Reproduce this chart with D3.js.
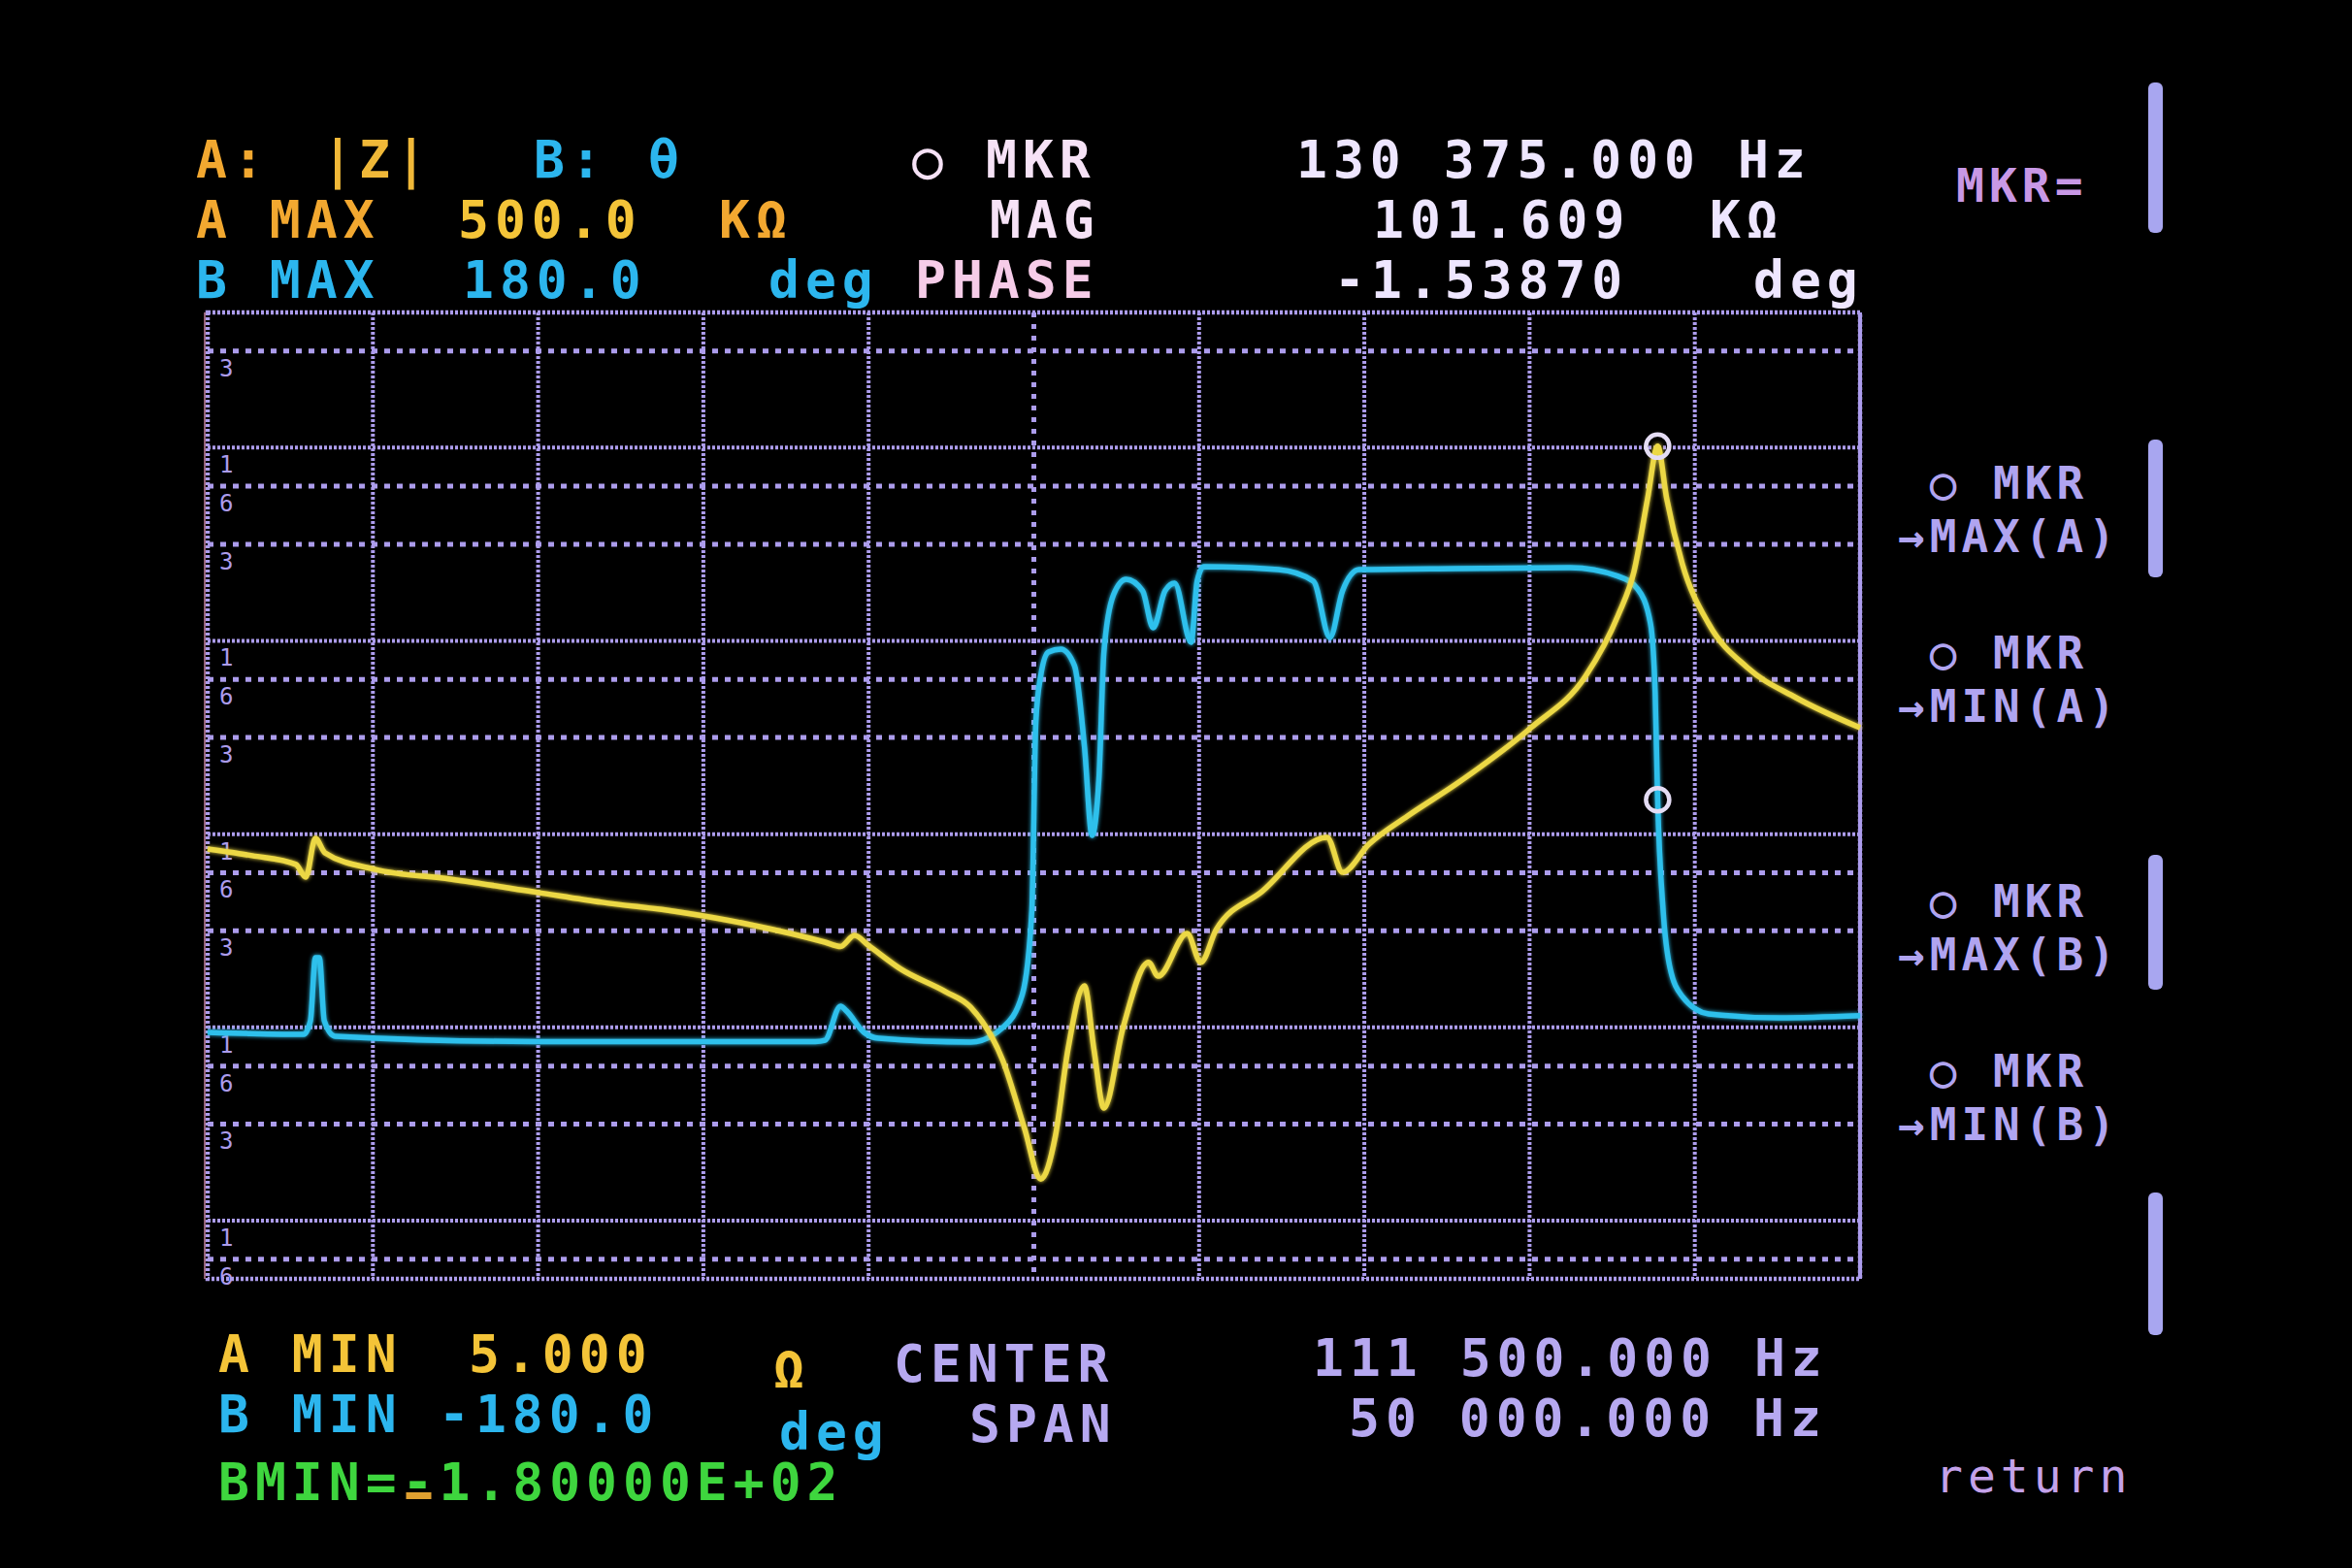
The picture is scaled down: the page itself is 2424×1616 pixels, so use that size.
<!DOCTYPE html>
<html><head><meta charset="utf-8">
<script src="https://cdn.jsdelivr.net/npm/d3@7"></script>
<style>html,body{margin:0;padding:0;background:#000;}svg{display:block;}</style>
</head><body>
<svg id="c" width="2424" height="1616"></svg>
<script>
const centerHz = 111500, spanHz = 50000;
const aMaxOhm = 500000, aMinOhm = 5;
const bMaxDeg = 180, bMinDeg = -180;
const markerHz = 130375, markerMagOhm = 101609, markerPhaseDeg = -1.53870;

// Trace A : |Z| (ohm) vs frequency (kHz)
const magFreqKHz = [86.50, 87.85, 89.17, 89.47, 89.76, 90.05, 91.58, 93.84, 96.46, 98.43, 100.78, 102.92, 105.18, 105.65, 106.07, 106.50, 107.48, 108.83, 109.59, 110.56, 111.21, 111.71, 112.15, 112.53, 113.03, 113.32, 113.62, 114.20, 114.97, 115.26, 116.14, 116.55, 117.02, 118.40, 120.37, 120.84, 121.64, 122.81, 124.28, 126.54, 128.19, 129.18, 129.66, 130.07, 130.375, 130.65, 131.12, 131.92, 133.09, 134.56, 136.50];
const magOhm = [837, 773, 697, 599, 951, 800, 656, 585, 500, 444, 395, 340, 276, 262, 299, 265, 200, 153, 127, 67.4, 30.3, 16.4, 27.3, 76.5, 164, 76.5, 38.2, 99.8, 217, 184, 306, 217, 321, 504, 962, 634, 887, 1241, 1816, 3550, 6550, 13580, 22850, 54300, 101609, 54300, 25060, 12240, 7270, 5080, 3550];

// Trace B : phase (deg) vs frequency (kHz)
const phaseFreqKHz = [86.50, 89.41, 89.61, 89.76, 89.88, 90.03, 90.35, 96.46, 104.89, 105.18, 105.65, 105.83, 106.36, 106.80, 109.59, 110.56, 111.15, 111.44, 111.56, 111.71, 111.94, 112.32, 112.73, 113.03, 113.26, 113.47, 113.62, 113.91, 114.29, 114.79, 115.11, 115.47, 115.76, 116.26, 116.44, 116.64, 118.90, 119.96, 120.46, 120.84, 121.34, 124.28, 127.72, 129.18, 129.77, 130.16, 130.30, 130.375, 130.54, 130.74, 131.12, 131.92, 134.06, 136.50];
const phaseDeg = [-88.2, -88.9, -83.9, -60.4, -60.4, -83.9, -89.6, -91.6, -91.6, -91.1, -78.4, -80.2, -88.2, -90.4, -91.8, -86.4, -74.1, -42.6, 27.5, 44.8, 53.5, 54.6, 48.4, 18.4, -14.8, 6.5, 53.5, 74.8, 80.6, 76.3, 62.5, 76.3, 79.2, 57.1, 79.9, 85.3, 84.2, 79.9, 58.9, 76.3, 84.2, 84.6, 84.9, 81.7, 77.0, 64.0, 38.3, -1.5387, -42.6, -63.6, -74.8, -81.3, -82.8, -82.0];

// graticule
const gridDecades = [10, 100, 1000, 10000, 100000];
const gridMinor = [6.31, 31.6, 63.1, 316, 631, 3160, 6310, 31600, 63100, 316000];
const gridMinorLabels = [6, 3, 6, 3, 6, 3, 6, 3, 6, 3];
const freqDivisions = 10;

const menuItems = ["→MAX(A)", "→MIN(A)", "→MAX(B)", "→MIN(B)"];

// ---------- helpers ----------
function grp(v){ // 130375.000 -> "130 375.000"
  const s = v.toFixed(3); const [i,f] = s.split(".");
  return i.replace(/\B(?=(\d{3})+(?!\d))/g," ") + "." + f;
}
const svg = d3.select("#c");
svg.append("rect").attr("width",2424).attr("height",1616).attr("fill","#000");

const defs = svg.append("defs");
const glow = defs.append("filter").attr("id","glow").attr("x","-5%").attr("y","-5%").attr("width","110%").attr("height","110%");
glow.append("feGaussianBlur").attr("stdDeviation",2.2).attr("result","b");
const fm = glow.append("feMerge"); fm.append("feMergeNode").attr("in","b"); fm.append("feMergeNode").attr("in","SourceGraphic");

const L=214, R=1917, T=322, B=1318;
const startKHz = (centerHz - spanHz/2)/1000, stopKHz = (centerHz + spanHz/2)/1000;
const x = d3.scaleLinear().domain([startKHz, stopKHz]).range([L,R]);
const yA = d3.scaleLog().domain([aMinOhm, aMaxOhm]).range([B,T]);
const yB = d3.scaleLinear().domain([bMinDeg, bMaxDeg]).range([B,T]);

const gridCol = "#ac9cec";
const g = svg.append("g");
gridDecades.forEach(v=>{
  g.append("line").attr("x1",L).attr("x2",R).attr("y1",yA(v)).attr("y2",yA(v))
   .attr("stroke",gridCol).attr("stroke-width",4).attr("stroke-dasharray","3,2");
  g.append("text").attr("x",L+12).attr("y",yA(v)+26).text("1")
   .attr("fill",gridCol).attr("font-family","DejaVu Sans Mono").attr("font-size",24);
});
gridMinor.forEach((v,i)=>{
  g.append("line").attr("x1",L).attr("x2",R).attr("y1",yA(v)).attr("y2",yA(v))
   .attr("stroke",gridCol).attr("stroke-width",5).attr("stroke-dasharray","6,7");
  g.append("text").attr("x",L+12).attr("y",yA(v)+26).text(gridMinorLabels[i])
   .attr("fill",gridCol).attr("font-family","DejaVu Sans Mono").attr("font-size",24);
});
const fTicks = d3.range(freqDivisions+1).map(i=>startKHz + i*(stopKHz-startKHz)/freqDivisions);
fTicks.forEach((f,i)=>{
  const center = i===freqDivisions/2;
  g.append("line").attr("x1",x(f)).attr("x2",x(f)).attr("y1",T).attr("y2",B)
   .attr("stroke",gridCol).attr("stroke-width",center?5:4)
   .attr("stroke-dasharray",center?"5,7":"3,2");
});
g.append("rect").attr("x",L).attr("y",T).attr("width",R-L).attr("height",B-T)
 .attr("fill","none").attr("stroke",gridCol).attr("stroke-width",4.5).attr("stroke-dasharray","3,2");
g.append("line").attr("x1",L-3).attr("x2",L-3).attr("y1",T).attr("y2",B).attr("stroke","#d08aa8").attr("stroke-width",2).attr("opacity",0.7);

// traces
const lineB = d3.line().x(d=>x(d[0])).y(d=>yB(d[1])).curve(d3.curveMonotoneX);
const lineA = d3.line().x(d=>x(d[0])).y(d=>yA(d[1])).curve(d3.curveMonotoneX);
svg.append("path").datum(d3.zip(phaseFreqKHz, phaseDeg)).attr("d",lineB)
  .attr("fill","none").attr("stroke","#2ec0ec").attr("stroke-width",5.5).attr("filter","url(#glow)");
svg.append("path").datum(d3.zip(magFreqKHz, magOhm)).attr("d",lineA)
  .attr("fill","none").attr("stroke","#ecd845").attr("stroke-width",5.5).attr("filter","url(#glow)");

// markers
[yA(markerMagOhm), yB(markerPhaseDeg)].forEach(yy=>{
  svg.append("circle").attr("cx",x(markerHz/1000)).attr("cy",yy).attr("r",12)
   .attr("fill","none").attr("stroke","#e4dcf4").attr("stroke-width",4.5);
});

// ---------- texts ----------
const FONT = "DejaVu Sans Mono";
function txt(t, xx, yy, col, size, ls){
  return svg.append("text").attr("x",xx).attr("y",yy).text(t).attr("fill",col)
    .attr("font-family",FONT).attr("font-weight","bold").attr("font-size",size||53)
    .attr("letter-spacing",ls===undefined?6:ls).style("white-space","pre");
}
const orange="#f2a830", yel="#f4c438", cyan="#2cb6ee", wpink="#f6e2f6", wval="#eee6ff", lav="#b6a8f0", green="#3ed63e";

// top rows
const r1=183, r2=245, r3=307;
txt("A:", 202, r1, orange); txt("|Z|", 332, r1, "#f0b838");
txt("B:", 550, r1, cyan); txt("θ", 668, r1, cyan);
txt("○", 940, r1, wpink); txt("MKR", 1016, r1, wpink);
txt(grp(markerHz)+" Hz", 1336, r1, wval);

txt("A MAX", 202, r2, orange); txt((aMaxOhm/1000).toFixed(1), 472, r2, yel); txt("KΩ", 741, r2, orange);
txt("MAG", 1020, r2, wpink); txt((markerMagOhm/1000).toFixed(3), 1415, r2, wval); txt("KΩ", 1762, r2, wval);

txt("B MAX", 202, r3, cyan); txt(bMaxDeg.toFixed(1), 477, r3, cyan); txt("deg", 792, r3, cyan);
txt("PHASE", 943, r3, "#f6cce8"); txt(markerPhaseDeg.toFixed(5), 1375, r3, wval); txt("deg", 1807, r3, wval);

// bottom rows
txt("A MIN", 225, 1414, yel); txt(aMinOhm.toFixed(3), 483, 1414, yel); txt("Ω", 797, 1430, yel);
txt("CENTER", 921, 1424, lav); txt(grp(centerHz)+" Hz", 1353, 1418, lav);
txt("B MIN", 225, 1476, cyan); txt(bMinDeg.toFixed(1), 452, 1476, cyan); txt("deg", 803, 1494, cyan);
txt("SPAN", 999, 1486, lav); txt(grp(spanHz)+" Hz", 1390, 1480, lav);
const bminStr = "BMIN=" + (bMinDeg<0?"-":"") + Math.abs(bMinDeg/100).toFixed(5) + "E+02";
txt(bminStr, 225, 1546, green);
svg.append("rect").attr("x",225+5*37.9+4).attr("y",1538).attr("width",26).attr("height",7).attr("fill","#e0a030");

// right menu
const menuCol = "#b0a4f0";
txt("MKR=", 2016, 208, "#c898e6", 48, 5);
const menuBase = [569, 744, 1000, 1175];
menuItems.forEach((m,i)=>{
  txt(" ○ MKR", 1956, menuBase[i]-55, menuCol, 46, 5);
  txt(m, 1956, menuBase[i], menuCol, 46, 5);
});
txt("return", 1994, 1538, "#c4a2ea", 48, 5).attr("font-weight","normal");
// softkey bars
[[85,240],[453,595],[881,1020],[1229,1376]].forEach(([a,b])=>{
  svg.append("rect").attr("x",2214).attr("y",a).attr("width",15).attr("height",b-a).attr("rx",6)
    .attr("fill","#a8a6f0");
});
</script>
</body></html>
